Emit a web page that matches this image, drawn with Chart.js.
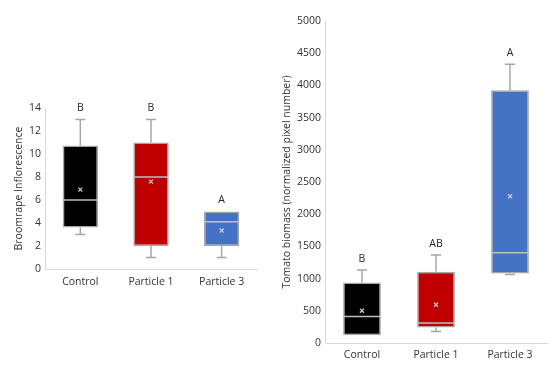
<!DOCTYPE html>
<html lang="en">
<head>
  <meta charset="UTF-8">
  <title>Broomrape and tomato box plots</title>
  <script src="https://cdn.jsdelivr.net/npm/chart.js"></script>
  <style>
    body { margin: 0; background: #fff; }
    .box { position: absolute; }
  </style>
</head>
<body>
  <div class="box" style="left:0;top:90px;"><canvas id="leftChart" width="265" height="210"></canvas></div>
  <div class="box" style="left:270px;top:0;"><canvas id="rightChart" width="281" height="375"></canvas></div>

  <script>
    const categories = ["Control", "Particle 1", "Particle 3"];
    const boxColors = ["#000000", "#c00000", "#4472c4"];

    // Broomrape inflorescence (left panel)
    const broomMin = [3, 1, 1];
    const broomQ1 = [3.6, 2, 2];
    const broomMedian = [6, 8, 4.1];
    const broomQ3 = [10.75, 11, 5];
    const broomMax = [13, 13, 5];
    const broomMean = [6.9, 7.6, 3.35];
    const broomLetters = ["B", "B", "A"];

    // Tomato biomass (right panel)
    const tomatoMin = [120, 180, 1065];
    const tomatoQ1 = [120, 240, 1080];
    const tomatoMedian = [410, 310, 1400];
    const tomatoQ3 = [940, 1105, 3925];
    const tomatoMax = [1135, 1365, 4330];
    const tomatoMean = [500, 595, 2280];
    const tomatoLetters = ["B", "AB", "A"];

    const FONT = "'Open Sans', 'Liberation Sans', sans-serif";

    // draws whiskers, median, mean marker and letters on top of the floating bars
    const boxExtras = {
      id: 'boxExtras',
      afterDatasetsDraw(chart, args, opts) {
        const ctx = chart.ctx;
        const y = chart.scales.y;
        const meta = chart.getDatasetMeta(0);
        ctx.save();
        meta.data.forEach((bar, i) => {
          const cx = bar.x;
          const half = bar.width / 2;
          const yMin = y.getPixelForValue(opts.min[i]);
          const yQ1 = y.getPixelForValue(opts.q1[i]);
          const yQ3 = y.getPixelForValue(opts.q3[i]);
          const yMax = y.getPixelForValue(opts.max[i]);
          const yMed = y.getPixelForValue(opts.median[i]);
          const yMean = y.getPixelForValue(opts.mean[i]);

          ctx.strokeStyle = '#a6a6a6';
          ctx.lineWidth = 1.5;
          ctx.beginPath();
          if (opts.max[i] > opts.q3[i]) {
            ctx.moveTo(cx, yQ3); ctx.lineTo(cx, yMax);
            ctx.moveTo(cx - 5, yMax); ctx.lineTo(cx + 5, yMax);
          }
          if (opts.min[i] < opts.q1[i]) {
            ctx.moveTo(cx, yQ1); ctx.lineTo(cx, yMin);
            ctx.moveTo(cx - 5, yMin); ctx.lineTo(cx + 5, yMin);
          }
          ctx.stroke();

          // median
          ctx.strokeStyle = '#bfbfbf';
          ctx.beginPath();
          ctx.moveTo(cx - half, yMed); ctx.lineTo(cx + half, yMed);
          ctx.stroke();

          // mean
          ctx.strokeStyle = '#c8c8c8';
          ctx.lineWidth = 1.3;
          ctx.beginPath();
          ctx.moveTo(cx - 2, yMean - 2); ctx.lineTo(cx + 2, yMean + 2);
          ctx.moveTo(cx + 2, yMean - 2); ctx.lineTo(cx - 2, yMean + 2);
          ctx.stroke();

          // significance letter
          ctx.fillStyle = '#262626';
          ctx.font = '10.5px ' + FONT;
          ctx.textAlign = 'center';
          ctx.textBaseline = 'middle';
          ctx.fillText(opts.letters[i], cx, yMax - 11);
        });
        ctx.restore();
      }
    };

    function makeBoxChart(id, d) {
      return new Chart(document.getElementById(id), {
        type: 'bar',
        data: {
          labels: categories,
          datasets: [{
            data: d.q1.map((v, i) => [v, d.q3[i]]),
            backgroundColor: boxColors,
            borderColor: '#a6a6a6',
            borderWidth: 1.5,
            borderSkipped: false,
            barPercentage: d.barPct,
            categoryPercentage: 1
          }]
        },
        options: {
          responsive: false,
          animation: false,
          layout: { padding: d.padding },
          plugins: {
            legend: { display: false },
            tooltip: { enabled: false },
            boxExtras: d
          },
          scales: {
            x: {
              grid: { display: false, drawTicks: false },
              border: { color: '#d9d9d9', width: 1 },
              ticks: { color: '#333333', font: { family: FONT, size: 10.5 }, padding: d.xPad },
              afterFit: s => { s.height = d.xHeight; }
            },
            y: {
              min: 0,
              max: d.yMax,
              grid: { display: false, drawTicks: false },
              border: { color: '#d9d9d9', width: 1 },
              ticks: {
                stepSize: d.step, color: '#333333', font: { family: FONT, size: 10.5 }, padding: 4,
                callback: v => String(v)
              },
              title: {
                display: true,
                text: d.title,
                color: '#333333',
                font: { family: FONT, size: 10.5 },
                padding: { top: d.titlePad, bottom: 0 }
              },
              afterFit: s => { s.width = d.yWidth; }
            }
          }
        },
        plugins: [boxExtras]
      });
    }

    makeBoxChart('leftChart', {
      min: broomMin, q1: broomQ1, median: broomMedian, q3: broomQ3, max: broomMax,
      mean: broomMean, letters: broomLetters,
      yMax: 14, step: 2, title: 'Broomrape Inflorescence',
      barPct: 0.5, padding: { top: 18, right: 8, bottom: 0, left: 0 },
      xPad: 7, xHeight: 31, yWidth: 45, titlePad: 13
    });

    makeBoxChart('rightChart', {
      min: tomatoMin, q1: tomatoQ1, median: tomatoMedian, q3: tomatoQ3, max: tomatoMax,
      mean: tomatoMean, letters: tomatoLetters,
      yMax: 5000, step: 500, title: 'Tomato biomass (normalized pixel number)',
      barPct: 0.51, padding: { top: 21, right: 4, bottom: 0, left: 0 },
      xPad: 6, xHeight: 32, yWidth: 55, titlePad: 11
    });
  </script>
</body>
</html>
